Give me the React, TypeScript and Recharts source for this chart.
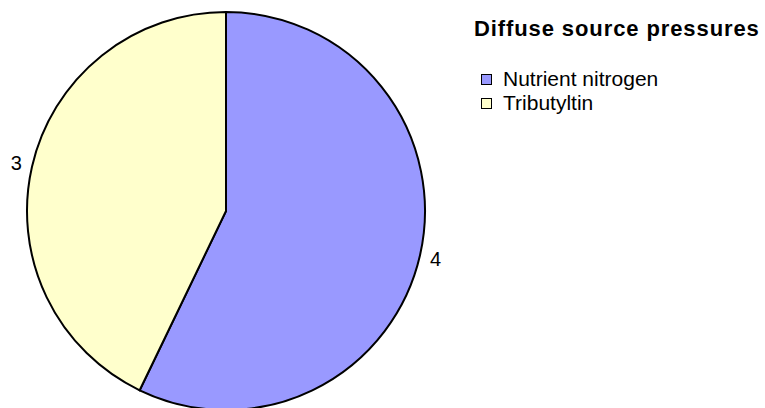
import React from 'react';
import { PieChart, Pie, Cell, Legend } from 'recharts';

const categories = ['Nutrient nitrogen', 'Tributyltin'];
const counts = [4, 3];
const colors = ['#9999FF', '#FFFFCC'];
const title = 'Diffuse source pressures';

const data = categories.map((name, i) => ({ name, value: counts[i] }));

const RADIAN = Math.PI / 180;
const FONT = '"Liberation Sans", Arial, sans-serif';

const renderLabel = (props: any) => {
  const { cx, cy, midAngle, outerRadius, value } = props;
  const r = outerRadius + 16;
  const x = cx + r * Math.cos(-midAngle * RADIAN);
  const y = cy + r * Math.sin(-midAngle * RADIAN);
  return (
    <text x={x} y={y} fill="#000" style={{ fontSize: 20, fontFamily: FONT }} textAnchor="middle" dominantBaseline="central">
      {value}
    </text>
  );
};

const renderLegend = (props: any) => {
  const { payload } = props;
  return (
    <div style={{ fontFamily: FONT, color: '#000' }}>
      <div style={{ fontWeight: 'bold', fontSize: 22, letterSpacing: 0.9, lineHeight: '24px', marginTop: 17, whiteSpace: 'nowrap' }}>{title}</div>
      <div style={{ marginTop: 26 }}>
        {(payload || []).map((entry: any, i: number) => (
          <div key={`leg-${i}`} style={{ display: 'flex', alignItems: 'center', height: 24, fontSize: 21 }}>
            <span
              style={{
                display: 'inline-block',
                width: 9,
                height: 9,
                border: '1px solid #000',
                background: colors[i],
                marginLeft: 7,
                marginRight: 11,
              }}
            />
            <span>{entry.value}</span>
          </div>
        ))}
      </div>
    </div>
  );
};

export default function App() {
  return (
    <div style={{ position: 'absolute', left: 0, top: 0, width: 765, height: 408, background: '#fff' }}>
      <PieChart width={765} height={408} margin={{ top: 0, right: 0, bottom: 0, left: 0 }}>
        <Pie
          data={data}
          dataKey="value"
          nameKey="name"
          cx={226}
          cy={211}
          outerRadius={199}
          startAngle={90}
          endAngle={-270}
          stroke="#000"
          strokeWidth={2}
          label={renderLabel}
          labelLine={false}
          isAnimationActive={false}
        >
          {data.map((d, i) => (
            <Cell key={`cell-${i}`} fill={colors[i]} />
          ))}
        </Pie>
        <Legend
          layout="vertical"
          verticalAlign="top"
          align="right"
          content={renderLegend}
          wrapperStyle={{ left: 474, top: 0, width: 291 }}
        />
      </PieChart>
    </div>
  );
}
